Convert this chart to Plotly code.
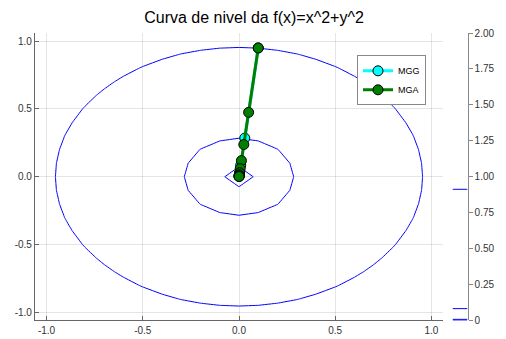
import numpy as np
import plotly.graph_objects as go

# ---- data ----
mgg_x = [0.1, 0.03, 0.009, 0.0027, 0.00081, 0.000243]
mgg_y = [0.95, 0.285, 0.0855, 0.02565, 0.007695, 0.0023085]
mga_x = [0.1, 0.05, 0.025, 0.0125, 0.00625, 0.003125, 0.0015625, 0.00078125, 0.000390625, 0.0001953125]
mga_y = [0.95, 0.475, 0.2375, 0.11875, 0.059375, 0.0296875, 0.01484375, 0.007421875, 0.0037109375, 0.00185546875]
levels = [0.9125, 0.0821, 0.00739, 0.000665]
grid = [round(-1 + 0.1 * i, 10) for i in range(21)]
xticks = [-1.0, -0.5, 0.0, 0.5, 1.0]
yticks = [-1.0, -0.5, 0.0, 0.5, 1.0]
cb_ticks = [0, 0.25, 0.5, 0.75, 1.0, 1.25, 1.5, 1.75, 2.0]
cb_labels = ["0", "0.25", "0.50", "0.75", "1.00", "1.25", "1.50", "1.75", "2.00"]

gx = np.array(grid)
Z = gx[None, :] ** 2 + gx[:, None] ** 2

W, H = 506, 339
fig = go.Figure()
for lv in levels:
    fig.add_trace(go.Contour(
        x=grid, y=grid, z=Z, contours=dict(coloring="lines", start=lv, end=lv, size=1),
        line=dict(color="blue", width=1, smoothing=0),
        colorscale=[[0, "blue"], [1, "blue"]], showscale=False, showlegend=False,
        hoverinfo="skip"))

fig.add_trace(go.Scatter(x=mgg_x, y=mgg_y, mode="lines+markers", name="MGG",
                         line=dict(color="cyan", width=3),
                         marker=dict(color="cyan", size=10, line=dict(color="black", width=1))))
fig.add_trace(go.Scatter(x=mga_x, y=mga_y, mode="lines+markers", name="MGA",
                         line=dict(color="green", width=3),
                         marker=dict(color="green", size=10, line=dict(color="black", width=1))))

# colorbar-like level marks
cbx, cby = [], []
for lv in levels:
    cbx += [0, 1, None]
    cby += [lv, lv, None]
fig.add_trace(go.Scatter(x=cbx, y=cby, xaxis="x2", yaxis="y2", mode="lines",
                         line=dict(color="blue", width=1), showlegend=False, hoverinfo="skip"))

left, right, top, bottom = 35, 443, 29, 326
xd = [left / W, right / W]
yd = [(H - bottom) / H, (H - top) / H]
tickfont = dict(family="Liberation Sans", size=10, color="#333")

fig.update_layout(
    width=W, height=H, margin=dict(l=0, r=0, t=0, b=0),
    paper_bgcolor="white", plot_bgcolor="white",
    title=dict(text="Curva de nivel da f(x)=x^2+y^2", x=0.502, xanchor="center",
               y=1 - 17 / H, yanchor="middle",
               font=dict(family="Liberation Sans", size=16, color="black")),
    xaxis=dict(domain=xd, range=[-1.06, 1.06], tickvals=xticks,
               ticktext=[f"{v:.1f}" for v in xticks], showgrid=True,
               gridcolor="rgba(0,0,0,0.1)", gridwidth=0.7, zeroline=False,
               showline=True, linecolor="#666", linewidth=1.2, ticks="inside",
               ticklen=4, tickcolor="#666", tickfont=tickfont, anchor="y"),
    yaxis=dict(domain=yd, range=[-1.06, 1.06], tickvals=yticks,
               ticktext=[f"{v:.1f}" for v in yticks], showgrid=True,
               gridcolor="rgba(0,0,0,0.1)", gridwidth=0.7, zeroline=False,
               showline=True, linecolor="#666", linewidth=1.2, ticks="inside",
               ticklen=4, tickcolor="#666", tickfont=tickfont, anchor="x"),
    xaxis2=dict(domain=[452.5 / W, 467.5 / W], range=[0, 1], visible=False, anchor="y2"),
    yaxis2=dict(domain=yd, range=[0, 2], anchor="x2", side="right", tickvals=cb_ticks,
                ticktext=cb_labels, showgrid=False, zeroline=False, showline=True,
                linecolor="#888", linewidth=1.2, ticks="outside", ticklen=4,
                tickcolor="#888", tickfont=tickfont),
    legend=dict(x=357 / W, y=1 - 52 / H, xanchor="left", yanchor="top",
                bgcolor="white", bordercolor="#888", borderwidth=1,
                font=dict(family="Liberation Sans", size=9, color="black"),
                tracegroupgap=0, itemwidth=30),
    showlegend=True,
)
fig.write_html("out.html")
